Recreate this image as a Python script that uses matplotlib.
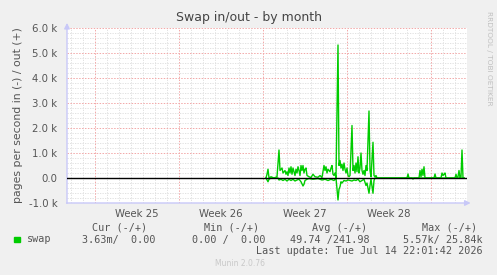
import matplotlib
matplotlib.use('Agg')
import matplotlib.pyplot as plt
from matplotlib.ticker import FixedLocator, FuncFormatter

# time axis: hours since the left edge of the month window (800 h shown)
window_hours = 800
week_starts = [56, 224, 392, 560, 728]
week_names = ['Week 25', 'Week 26', 'Week 27', 'Week 28']

# swap out (pages/s, drawn above zero)
hours_out = [398, 400, 402, 404, 408, 414, 420, 424, 426, 430, 432, 436, 438, 440,
             442, 444, 446, 448, 450, 452, 454, 456, 458, 460, 462, 464, 466, 468,
             470, 472, 474, 476, 478, 480, 484, 488, 492, 496, 502, 506, 510, 514,
             516, 518, 520, 522, 526, 528, 530, 532, 534, 536, 538, 542, 544, 546,
             548, 550, 552, 554, 556, 558, 560, 562, 564, 566, 570, 572, 574, 576,
             578, 580, 582, 584, 586, 588, 590, 592, 594, 596, 598, 600, 604, 606,
             608, 612, 614, 616, 618, 620, 680, 682, 684, 704, 706, 708, 710, 712,
             714, 716, 734, 736, 738, 748, 750, 752, 754, 756, 758, 776, 778, 780,
             782, 784, 786, 788, 790, 792, 794]
swap_out = [0, 150, 350, 0, 50, 0, 50, 1120, 300, 400, 200, 300, 150, 250,
            100, 400, 200, 450, 150, 400, 250, 100, 350, 200, 450, 300, 100, 500,
            300, 500, 200, 350, 400, 100, 50, 20, 150, 50, 30, 100, 20, 500,
            300, 450, 200, 350, 250, 400, 500, 150, 100, 200, 0, 5320, 500, 700,
            400, 550, 300, 600, 350, 200, 400, 100, 50, 100, 2100, 300, 500, 200,
            600, 250, 850, 200, 400, 1000, 300, 150, 300, 100, 500, 300, 2680, 300,
            50, 1430, 100, 50, 100, 0, 0, 160, 0, 0, 300, 50, 350, 100,
            450, 0, 0, 160, 0, 0, 200, 100, 150, 200, 0, 0, 150, 0,
            50, 300, 0, 50, 1120, 0, 0]

# swap in (pages/s, drawn below zero)
hours_in = [398, 402, 404, 408, 422, 424, 428, 432, 436, 440, 444, 448, 452, 456,
            460, 464, 468, 472, 474, 476, 480, 484, 492, 502, 510, 516, 522, 528,
            534, 538, 542, 544, 546, 548, 550, 554, 558, 562, 566, 570, 574, 578,
            582, 586, 590, 594, 598, 600, 604, 606, 608, 612, 614, 616, 690, 692,
            694, 794]
swap_in = [0, 150, 50, 0, 0, 80, 50, 100, 50, 120, 50, 100, 50, 120,
           80, 50, 150, 320, 250, 100, 50, 20, 50, 20, 80, 50, 100, 50,
           100, 0, 880, 450, 350, 150, 200, 100, 120, 80, 100, 120, 80, 100,
           50, 150, 100, 50, 300, 200, 610, 300, 50, 610, 100, 0, 0, 40,
           0, 0]

bg = '#f0f0f0'
fig = plt.figure(figsize=(4.97, 2.75), dpi=100, facecolor=bg)
ax = fig.add_axes([67 / 497, 72 / 275, 400 / 497, 175 / 275])
ax.set_facecolor('white')
ax.set_xlim(0, window_hours)
ax.set_ylim(-1000, 6000)

# grid: daily / 200 minor, weekly / 1000 major
dots = (0, (1.5, 1.5))
for h in range(week_starts[0] % 24, window_hours, 24):
    if h not in week_starts:
        ax.axvline(h, color='#dddddd', lw=0.6, ls=dots, zorder=0)
for v in range(-800, 6000, 200):
    if v % 1000:
        ax.axhline(v, color='#dddddd', lw=0.6, ls=dots, zorder=0)
for h in week_starts:
    ax.axvline(h, color='#f2a8a8', lw=0.7, ls=dots, zorder=1)
for v in range(-1000, 6001, 1000):
    ax.axhline(v, color='#f2a8a8', lw=0.7, ls=dots, zorder=1)

ax.plot(hours_out, swap_out, color='#00cc00', lw=1, zorder=3)
ax.plot(hours_in, [-v for v in swap_in], color='#00cc00', lw=1, zorder=3)
ax.axhline(0, color='black', lw=1, zorder=4)

for s in ax.spines.values():
    s.set_visible(False)
axis_col = '#c8c8f8'
ax.annotate('', xy=(1.016, 0), xytext=(-0.008, 0), xycoords='axes fraction',
            arrowprops=dict(arrowstyle='-|>', color=axis_col, lw=1, mutation_scale=8))
ax.annotate('', xy=(0, 1.045), xytext=(0, -0.018), xycoords='axes fraction',
            arrowprops=dict(arrowstyle='-|>', color=axis_col, lw=1, mutation_scale=8))

ax.yaxis.set_major_locator(FixedLocator(range(-1000, 6001, 1000)))
ax.yaxis.set_major_formatter(FuncFormatter(
    lambda v, p: '0.0' if v == 0 else f'{v / 1000:.1f} k'))
ax.set_xticks([w + 84 for w in week_starts[:4]])
ax.set_xticklabels(week_names)
ax.tick_params(axis='both', length=0, labelsize=7.3, labelcolor='#555555')
ax.tick_params(axis='y', pad=7)
ax.tick_params(axis='x', pad=4)

ax.set_ylabel('pages per second in (-) / out (+)', fontsize=7.8, color='#555555',
              labelpad=4)
fig.text(0.5, 1 - 18 / 275, 'Swap in/out - by month', ha='center', va='center',
         fontsize=9, color='#444444')
fig.text(489 / 497, 1 - 58 / 275, 'RRDTOOL / TOBI OETIKER', rotation=270,
         ha='center', va='center', fontsize=5.3, color='#c0c0c0')

# legend block
mono = dict(family='DejaVu Sans Mono', fontsize=7.3, color='#555555')
head_y = 1 - 228 / 275
row_y = 1 - 239.5 / 275
for x, t in [(120, 'Cur (-/+)'), (232, 'Min (-/+)'), (340, 'Avg (-/+)'), (450, 'Max (-/+)')]:
    fig.text(x / 497, head_y, t, ha='center', va='center', **mono)
fig.patches.append(plt.Rectangle((14 / 497, 1 - 242 / 275), 5.5 / 497, 5.5 / 275,
                                 transform=fig.transFigure, color='#00cc00'))
fig.text(27 / 497, row_y, 'swap', ha='left', va='center', **mono)
for x, t in [(156, '3.63m/  0.00'), (265, '0.00 /  0.00'), (370, '49.74 /241.98'),
             (483, '5.57k/ 25.84k')]:
    fig.text(x / 497, row_y, t, ha='right', va='center', **mono)
fig.text(483 / 497, 1 - 251 / 275, 'Last update: Tue Jul 14 22:01:42 2026',
         ha='right', va='center', **mono)
fig.text(240 / 497, 1 - 264 / 275, 'Munin 2.0.76', ha='center', va='center',
         fontsize=5.5, color='#c8c8c8')

fig.savefig('out.png', dpi=100, facecolor=bg)
